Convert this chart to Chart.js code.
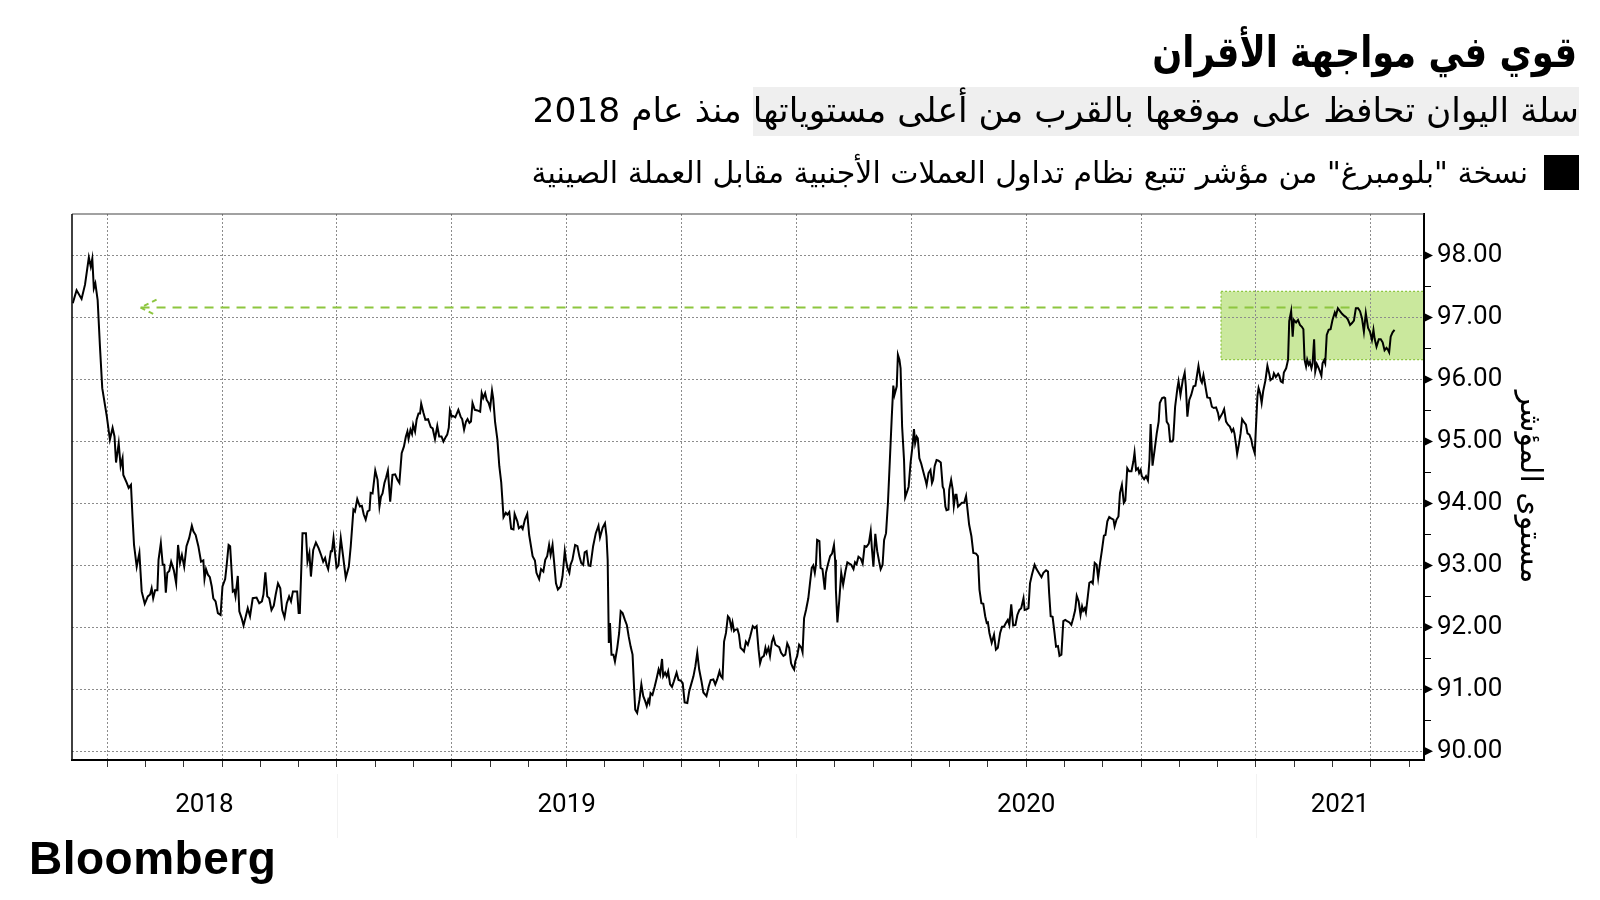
<!DOCTYPE html>
<html lang="ar">
<head>
<meta charset="utf-8">
<title>قوي في مواجهة الأقران</title>
<script src="https://cdn.jsdelivr.net/npm/chart.js@4.4.1/dist/chart.umd.min.js"></script>
<style>
  html, body { margin: 0; padding: 0; background: #fff; }
  #wrap { position: relative; width: 1600px; height: 900px; overflow: hidden; background: #fff; }
  #chart { position: absolute; left: 0; top: 0; }
  .txt { position: absolute; right: 23px; direction: rtl; white-space: nowrap; color: #000; font-family: 'DejaVu Sans', sans-serif; }
  .title { top: 31px; font-size: 43px; line-height: 43px; font-weight: bold; transform: scaleX(0.82); transform-origin: right center; }
  .subtitle { top: 93px; right: 21px; font-size: 34.5px; line-height: 34.5px; }
  .subtitle .mark { background: #efefef; padding: 3px 0 6px; }
  .legend { top: 158px; right: 72px; font-size: 30px; line-height: 30px; }
  .swatch { position: absolute; left: 1544px; top: 155px; width: 35px; height: 35px; background: #000; }
  .brand { position: absolute; left: 29px; top: 835px; font-family: 'Liberation Sans', Arial, sans-serif; font-weight: bold; font-size: 46px; line-height: 46px; letter-spacing: 0.5px; color: #000; }
</style>
</head>
<body>
<div id="wrap">
  <canvas id="chart" width="1600" height="900"></canvas>
  <div class="txt title">قوي في مواجهة الأقران</div>
  <div class="txt subtitle"><span class="mark">سلة اليوان تحافظ على موقعها بالقرب من أعلى مستوياتها</span> منذ عام 2018</div>
  <div class="swatch"></div>
  <div class="txt legend">نسخة "بلومبرغ" من مؤشر تتبع نظام تداول العملات الأجنبية مقابل العملة الصينية</div>
  <div class="brand">Bloomberg</div>
</div>
<script>
// x values are months counted from January 2018 (12 = Jan 2019, 24 = Jan 2020, 36 = Jan 2021)
const monthPos = [
  5.10, 5.20, 5.33, 5.42, 5.52, 5.57, 5.61, 5.65, 5.69, 5.75, 5.81, 5.87, 5.99, 6.07, 6.14, 6.19, 6.23, 6.30, 6.35, 6.40,
  6.42, 6.51, 6.56, 6.62, 6.66, 6.70, 6.77, 6.84, 6.90, 6.98, 7.06, 7.12, 7.16, 7.20, 7.25, 7.31, 7.34, 7.40, 7.45, 7.49,
  7.53, 7.57, 7.62, 7.67, 7.74, 7.80, 7.85, 7.90, 7.95, 8.01, 8.07, 8.14, 8.21, 8.25, 8.31, 8.38, 8.45, 8.51, 8.54, 8.58,
  8.63, 8.68, 8.73, 8.77, 8.83, 8.89, 8.96, 9.01, 9.08, 9.12, 9.17, 9.21, 9.28, 9.32, 9.35, 9.41, 9.45, 9.51, 9.56, 9.62,
  9.67, 9.73, 9.80, 9.90, 9.97, 10.04, 10.08, 10.13, 10.18, 10.23, 10.29, 10.35, 10.40, 10.46, 10.52, 10.57, 10.63, 10.69, 10.75, 10.80,
  10.85, 10.96, 11.00,
  11.03, 11.10, 11.19, 11.23, 11.28, 11.32, 11.38, 11.45, 11.52, 11.59, 11.64, 11.69, 11.73, 11.77, 11.84, 11.87, 11.91, 11.94, 11.99, 12.04,
  12.10, 12.15, 12.23, 12.31, 12.36, 12.43, 12.47, 12.53, 12.60, 12.65, 12.70, 12.75, 12.80, 12.85, 12.88, 12.93, 13.00, 13.06, 13.11, 13.15,
  13.19, 13.24, 13.28, 13.33, 13.39, 13.45, 13.52, 13.58, 13.63, 13.69, 13.75, 13.80, 13.84, 13.87, 13.92, 13.96, 13.99, 14.04, 14.08, 14.13,
  14.17, 14.20, 14.26, 14.31, 14.38, 14.45, 14.50, 14.56, 14.62, 14.67, 14.73, 14.78, 14.83, 14.88, 14.92, 14.95, 15.00, 15.04, 15.09, 15.17,
  15.23, 15.27, 15.32, 15.37, 15.41, 15.46, 15.50, 15.54, 15.60, 15.67, 15.74, 15.78, 15.82, 15.87, 15.91, 15.96, 16.00, 16.05, 16.08, 16.13,
  16.19, 16.24, 16.29, 16.35, 16.41, 16.45, 16.50, 16.55, 16.61, 16.64, 16.71, 16.75, 16.81, 16.85, 16.91, 16.97, 17.02,
  17.11, 17.17, 17.21, 17.28, 17.33, 17.39, 17.44, 17.49, 17.54, 17.58, 17.63, 17.67, 17.72, 17.77, 17.84, 17.89, 17.95, 17.98, 18.02, 18.07,
  18.10, 18.15, 18.22, 18.28, 18.33, 18.38, 18.43, 18.47, 18.52, 18.57, 18.62, 18.69, 18.76, 18.83, 18.87, 18.94, 19.00, 19.04, 19.07, 19.10,
  19.13, 19.17, 19.22, 19.26, 19.32, 19.37, 19.41, 19.46, 19.52, 19.57, 19.62, 19.67, 19.72, 19.76, 19.79, 19.84, 19.90, 19.95, 20.00, 20.05,
  20.09, 20.13, 20.16, 20.19, 20.24, 20.30, 20.35, 20.40, 20.44, 20.49, 20.52, 20.57, 20.61, 20.65, 20.70, 20.75, 20.80, 20.87, 20.92, 20.98,
  21.03, 21.08, 21.15, 21.20, 21.25, 21.31, 21.36, 21.41, 21.46, 21.52, 21.57, 21.65, 21.71, 21.76, 21.83, 21.88, 21.93, 21.99, 22.02, 22.07,
  22.11, 22.16, 22.21, 22.25, 22.30, 22.33, 22.37, 22.40, 22.46, 22.50, 22.54, 22.59, 22.63, 22.68, 22.73, 22.79, 22.86, 22.91, 22.96, 23.01,
  23.05, 23.09, 23.15, 23.19, 23.22, 23.27, 23.31, 23.36, 23.40, 23.45, 23.50, 23.55, 23.60, 23.66, 23.71, 23.76, 23.81, 23.86, 23.90, 23.94,
  23.97, 24.02, 24.07, 24.13, 24.16, 24.20, 24.25, 24.31, 24.35, 24.40, 24.44, 24.48, 24.51, 24.54, 24.60, 24.63, 24.68, 24.74, 24.77, 24.82,
  24.88, 24.93, 24.98, 25.01, 25.03, 25.07, 25.12, 25.17, 25.22, 25.28, 25.33, 25.38, 25.43, 25.49, 25.53, 25.57, 25.62, 25.68, 25.73, 25.78,
  25.83, 25.89, 25.94, 25.97, 26.01, 26.06, 26.11, 26.16, 26.20, 26.25, 26.29, 26.34, 26.39, 26.44, 26.49, 26.53, 26.56, 26.62, 26.65, 26.69,
  26.72, 26.76, 26.81, 26.84, 26.90, 26.93, 26.98, 27.03, 27.07, 27.10, 27.14, 27.17, 27.21, 27.26, 27.31, 27.37, 27.40, 27.45, 27.50, 27.54,
  27.57, 27.61, 27.66, 27.71, 27.77, 27.82, 27.85, 27.89, 27.92, 27.97, 27.99, 28.04, 28.08, 28.11, 28.15, 28.18, 28.22, 28.27, 28.32, 28.38,
  28.43, 28.46, 28.51, 28.57, 28.62, 28.69, 28.74, 28.78, 28.83, 28.88, 28.93, 28.97, 29.00, 29.04,
  29.10, 29.16, 29.21, 29.26, 29.32, 29.37, 29.42, 29.47, 29.52, 29.56, 29.61, 29.66, 29.72, 29.77, 29.82, 29.87, 29.93, 29.96, 30.01, 30.06,
  30.10, 30.15, 30.22, 30.27, 30.34, 30.40, 30.45, 30.52, 30.57, 30.60, 30.64, 30.69, 30.74, 30.78, 30.83, 30.87, 30.92, 30.97, 31.02, 31.07,
  31.13, 31.18, 31.23, 31.28, 31.32, 31.37, 31.42, 31.46, 31.49, 31.53, 31.56, 31.61, 31.65, 31.70, 31.74, 31.79, 31.84, 31.88, 31.93, 31.98,
  32.03, 32.07, 32.12, 32.17, 32.22, 32.28, 32.31, 32.36, 32.41, 32.45, 32.50, 32.55, 32.59, 32.64, 32.69, 32.75, 32.80, 32.83, 32.87, 32.92,
  32.95, 32.99, 33.02, 33.08, 33.13, 33.18, 33.22, 33.25, 33.30, 33.36, 33.41, 33.46, 33.49, 33.55, 33.60, 33.63, 33.67, 33.72, 33.76, 33.81,
  33.84, 33.89, 33.95, 33.98, 34.03, 34.09, 34.14, 34.17, 34.21, 34.26, 34.31, 34.37, 34.42, 34.47, 34.50, 34.56, 34.59, 34.63, 34.68, 34.73,
  34.80, 34.85, 34.90, 34.96, 35.01, 35.04,
  35.13, 35.17, 35.22, 35.27, 35.32, 35.37, 35.41, 35.44, 35.48, 35.51, 35.56, 35.60, 35.64, 35.69, 35.74, 35.78, 35.83, 35.88, 35.91, 35.97,
  36.00, 36.04, 36.07, 36.11, 36.15, 36.19, 36.25, 36.30, 36.35, 36.38, 36.44, 36.47, 36.52, 36.58, 36.61, 36.65, 36.70, 36.73, 36.79, 36.84,
  36.87, 36.92, 36.96, 36.99, 37.05, 37.10, 37.15, 37.20, 37.24, 37.27, 37.31, 37.34, 37.38, 37.41, 37.45, 37.48, 37.52, 37.55, 37.59, 37.62,
  37.66, 37.71, 37.74, 37.78, 37.81, 37.85, 37.90, 37.95, 38.00, 38.06, 38.09, 38.14, 38.20, 38.25, 38.30, 38.35, 38.40, 38.46, 38.51, 38.56,
  38.61, 38.67, 38.72, 38.77, 38.82, 38.87, 38.93, 38.98, 39.03, 39.07, 39.10, 39.15, 39.21, 39.26, 39.31, 39.36, 39.41, 39.45, 39.48, 39.52,
  39.57, 39.62
];

const basketIndex = [
  97.23, 97.44, 97.30, 97.53, 97.97, 97.82, 97.95, 97.47, 97.55, 97.28, 96.53, 95.86, 95.40, 95.03, 95.22, 95.08, 94.66, 94.97, 94.60, 94.73,
  94.46, 94.33, 94.25, 94.30, 93.79, 93.33, 92.98, 93.20, 92.58, 92.38, 92.50, 92.53, 92.63, 92.47, 92.60, 92.60, 93.09, 93.36, 93.01, 93.01,
  92.56, 92.88, 92.91, 93.06, 92.92, 92.71, 93.33, 93.04, 93.17, 92.98, 93.31, 93.44, 93.64, 93.55, 93.49, 93.31, 93.06, 93.08, 92.78, 92.94,
  92.85, 92.81, 92.66, 92.47, 92.42, 92.23, 92.20, 92.66, 92.78, 93.01, 93.33, 93.31, 92.58, 92.60, 92.50, 92.83, 92.26, 92.15, 92.03, 92.18,
  92.31, 92.18, 92.47, 92.48, 92.39, 92.42, 92.53, 92.89, 92.50, 92.47, 92.28, 92.35, 92.53, 92.71, 92.63, 92.28, 92.16, 92.39, 92.50, 92.42,
  92.58, 92.58, 92.23,
  92.23, 93.52, 93.52, 93.06, 93.20, 92.82, 93.25, 93.37, 93.28, 93.16, 93.06, 93.12, 93.01, 92.94, 93.23, 93.23, 93.44, 93.25, 92.96, 93.00,
  93.44, 93.20, 92.80, 92.98, 93.31, 93.90, 93.87, 94.07, 93.95, 93.96, 93.82, 93.74, 93.87, 93.89, 94.17, 94.16, 94.53, 94.38, 93.95, 94.11,
  94.16, 94.33, 94.41, 94.53, 94.03, 94.46, 94.47, 94.38, 94.33, 94.81, 94.92, 95.08, 95.16, 95.04, 95.19, 95.12, 95.27, 95.16, 95.35, 95.45,
  95.45, 95.61, 95.46, 95.35, 95.36, 95.23, 95.21, 95.04, 95.25, 95.08, 95.08, 95.00, 95.06, 95.11, 95.22, 95.50, 95.40, 95.41, 95.39, 95.51,
  95.40, 95.36, 95.19, 95.32, 95.36, 95.30, 95.32, 95.62, 95.51, 95.50, 95.48, 95.78, 95.70, 95.78, 95.67, 95.62, 95.54, 95.82, 95.70, 95.31,
  95.03, 94.60, 94.34, 93.78, 93.85, 93.82, 93.86, 93.59, 93.58, 93.83, 93.71, 93.60, 93.63, 93.59, 93.74, 93.83, 93.49,
  93.15, 93.08, 92.88, 92.78, 92.94, 92.90, 93.09, 93.15, 93.33, 93.17, 93.33, 93.06, 92.71, 92.61, 92.66, 92.82, 93.23, 93.09, 92.96, 92.88,
  93.01, 93.09, 93.33, 93.31, 93.15, 93.04, 93.01, 93.21, 93.23, 93.00, 92.99, 93.31, 93.52, 93.64, 93.45, 93.61, 93.68, 93.47, 93.09, 91.75,
  92.07, 91.56, 91.56, 91.45, 91.67, 91.91, 92.26, 92.23, 92.12, 92.04, 91.85, 91.69, 91.56, 91.02, 90.67, 90.62, 90.83, 91.08, 90.89, 90.81,
  90.73, 90.83, 90.78, 90.94, 90.91, 91.05, 91.18, 91.32, 91.24, 91.49, 91.21, 91.27, 91.21, 91.29, 91.08, 91.04, 91.13, 91.27, 91.15, 91.14,
  91.10, 90.79, 90.78, 90.97, 91.08, 91.21, 91.37, 91.59, 91.32, 91.13, 90.95, 90.89, 91.05, 91.15, 91.16, 91.08, 91.16, 91.29, 91.22, 91.18,
  91.77, 91.91, 92.18, 92.15, 91.99, 92.08, 91.94, 91.96, 91.97, 91.88, 91.67, 91.64, 91.61, 91.77, 91.72, 91.85, 92.02, 91.99, 92.02, 91.64,
  91.42, 91.51, 91.54, 91.67, 91.59, 91.67, 91.54, 91.77, 91.84, 91.72, 91.70, 91.68, 91.59, 91.54, 91.56, 91.74, 91.67, 91.42, 91.36, 91.32,
  91.45, 91.54, 91.72, 91.67, 91.60, 92.15, 92.28, 92.47, 92.69, 92.96, 93.00, 92.88, 93.01, 93.41, 93.39, 92.96, 92.94, 92.61, 92.88, 93.01,
  93.15, 93.19, 93.33, 93.09, 92.61, 92.08, 92.45, 92.88, 92.69, 92.91, 93.05, 93.03, 93.01, 92.94, 93.05, 93.02, 93.14, 93.11, 93.03, 93.31,
  93.30, 93.35, 93.55, 93.28, 92.98, 93.51, 93.23, 93.06, 92.94, 93.01, 93.41, 93.52, 94.01, 94.70, 95.40, 95.90, 95.75, 95.89, 96.40, 96.32,
  96.18, 95.24, 94.70, 94.10, 94.21, 94.27, 94.65, 94.92, 95.20, 94.97, 95.08, 95.05, 94.73, 94.64, 94.52, 94.38, 94.30, 94.49, 94.54, 94.33,
  94.38, 94.60, 94.70, 94.69, 94.66, 94.27, 94.23, 93.95, 93.89, 93.90, 94.22, 94.38, 94.23, 93.96, 94.14, 94.14, 93.95, 93.98, 94.01, 94.01,
  94.12, 93.95, 93.66, 93.47, 93.20, 93.19, 93.15, 92.61, 92.39, 92.38, 92.18, 92.07, 92.08, 91.91,
  91.75, 91.88, 91.64, 91.67, 91.91, 92.01, 92.01, 92.07, 92.12, 92.04, 92.37, 92.03, 92.04, 92.20, 92.28, 92.31, 92.47, 92.28, 92.29, 92.31,
  92.71, 92.85, 93.01, 92.94, 92.87, 92.81, 92.88, 92.92, 92.90, 92.55, 92.18, 92.17, 91.91, 91.69, 91.70, 91.54, 91.56, 92.10, 92.12, 92.10,
  92.08, 92.04, 92.15, 92.28, 92.51, 92.42, 92.20, 92.34, 92.27, 92.31, 92.24, 92.50, 92.72, 92.74, 92.71, 93.04, 93.01, 92.80, 93.04, 93.25,
  93.48, 93.49, 93.71, 93.78, 93.76, 93.74, 93.63, 93.74, 93.79, 94.17, 94.30, 94.01, 94.05, 94.57, 94.52, 94.52, 94.68, 94.82, 94.54, 94.57,
  94.49, 94.54, 94.44, 94.39, 94.44, 94.37, 94.70, 95.28, 94.61, 94.89, 95.13, 95.32, 95.62, 95.70, 95.71, 95.70, 95.32, 95.27, 95.00, 95.00,
  95.03, 95.56, 95.86, 95.97, 95.75, 95.99, 96.11, 95.89, 95.40, 95.67, 95.75, 95.89, 95.90, 96.10, 96.22, 95.99, 95.95, 96.07, 95.89, 95.71,
  95.70, 95.56, 95.54, 95.55, 95.46, 95.36,
  95.46, 95.52, 95.32, 95.27, 95.24, 95.16, 95.20, 95.13, 94.95, 94.80, 94.97, 95.13, 95.36, 95.31, 95.27, 95.13, 95.11, 95.03, 94.93, 94.81,
  95.22, 95.73, 95.86, 95.78, 95.62, 95.81, 95.99, 96.22, 96.09, 95.99, 96.02, 96.10, 96.04, 96.09, 96.06, 95.97, 95.95, 96.11, 96.18, 96.32,
  96.94, 97.10, 96.69, 96.96, 96.92, 96.96, 96.88, 96.85, 96.81, 96.32, 96.21, 96.32, 96.24, 96.28, 96.18, 96.26, 96.65, 96.13, 96.25, 96.21,
  96.15, 96.06, 96.26, 96.31, 96.26, 96.72, 96.80, 96.81, 96.96, 97.08, 97.03, 97.15, 97.10, 97.06, 97.03, 97.01, 96.97, 96.88, 96.91, 96.95,
  97.15, 97.15, 97.10, 96.99, 96.77, 97.07, 96.83, 96.77, 96.64, 96.80, 96.66, 96.53, 96.65, 96.65, 96.60, 96.47, 96.51, 96.48, 96.44, 96.69,
  96.76, 96.80
];

const yTickValues = [90, 91, 92, 93, 94, 95, 96, 97, 98];
const years = [2018, 2019, 2020, 2021];
const xMin = 5.08, xMax = 40.39;
const yMin = 89.86, yMax = 98.67;

// recent trading band (green box) and the dashed reference level
const bandFrom = 35.09, bandTo = 40.39;
const bandLow = 96.32, bandHigh = 97.42;
const refLevel = 97.16;
const refFrom = 6.87, refTo = 38.65;

const green = '#8dc63f';
const gridGray = '#8c8c8c';

const monthTicks = [];
for (let m = Math.ceil(xMin); m <= xMax; m++) monthTicks.push(m);
const yTicksAll = [];
yTickValues.forEach(v => { yTicksAll.push(v); if (v < yTickValues[yTickValues.length - 1]) yTicksAll.push(v + 0.5); });

const extras = {
    id: 'extras',
    beforeDraw(chart) {
        const {ctx, scales: {x, y}} = chart;
        const l = x.getPixelForValue(bandFrom), r = x.getPixelForValue(bandTo);
        const t = y.getPixelForValue(bandHigh), b = y.getPixelForValue(bandLow);
        ctx.save();
        ctx.fillStyle = 'rgba(150, 210, 60, 0.5)';
        ctx.fillRect(l, t, r - l, b - t);
        ctx.strokeStyle = green;
        ctx.lineWidth = 1.2;
        ctx.setLineDash([2, 2]);
        ctx.strokeRect(l, t, r - l, b - t);
        ctx.restore();
    },
    afterDatasetsDraw(chart) {
        const {ctx, scales: {x, y}} = chart;
        // arrow head of the reference line
        const px = x.getPixelForValue(refFrom), py = y.getPixelForValue(refLevel);
        ctx.save();
        ctx.strokeStyle = green;
        ctx.lineWidth = 2;
        ctx.setLineDash([5, 4]);
        ctx.beginPath();
        ctx.moveTo(px + 16, py - 8); ctx.lineTo(px, py); ctx.lineTo(px + 14, py + 7);
        ctx.stroke();
        ctx.restore();
    },
    afterDraw(chart) {
        const {ctx, chartArea: area, scales: {x, y}} = chart;
        ctx.save();
        // frame: top and left edges
        ctx.strokeStyle = '#444';
        ctx.lineWidth = 1.2;
        ctx.beginPath();
        ctx.moveTo(area.left, area.top); ctx.lineTo(area.right, area.top);
        ctx.stroke();
        ctx.strokeStyle = '#111';
        ctx.lineWidth = 1.6;
        ctx.beginPath();
        ctx.moveTo(area.left, area.top); ctx.lineTo(area.left, area.bottom);
        ctx.stroke();

        // little pointers on the value axis
        ctx.fillStyle = '#000';
        yTickValues.forEach(v => {
            const py = y.getPixelForValue(v);
            ctx.beginPath();
            ctx.moveTo(area.right, py - 4.5);
            ctx.lineTo(area.right + 9, py);
            ctx.lineTo(area.right, py + 4.5);
            ctx.closePath();
            ctx.fill();
        });

        // year labels centred on each year's span, with faint separators
        ctx.font = '26px Roboto';
        ctx.textAlign = 'center';
        ctx.textBaseline = 'middle';
        years.forEach(yr => {
            const s = Math.max(xMin, (yr - 2018) * 12);
            const e = Math.min(xMax, (yr - 2017) * 12);
            const cx = (x.getPixelForValue(s) + x.getPixelForValue(e)) / 2;
            ctx.fillStyle = '#000';
            ctx.fillText(String(yr), cx, area.bottom + 45);
            if (s > xMin) {
                const sx = Math.round(x.getPixelForValue(s)) + 0.5;
                ctx.strokeStyle = '#f2f2f2';
                ctx.lineWidth = 1;
                ctx.beginPath();
                ctx.moveTo(sx, area.bottom + 14); ctx.lineTo(sx, area.bottom + 78);
                ctx.stroke();
            }
        });
        ctx.restore();
    }
};

Chart.defaults.font.family = 'Roboto';
Chart.defaults.color = '#000';

const ctx = document.getElementById('chart').getContext('2d');
new Chart(ctx, {
    type: 'line',
    data: {
        datasets: [{
            label: 'مؤشر بلومبرغ لسلة اليوان',
            data: monthPos.map((m, i) => ({x: m, y: basketIndex[i]})),
            borderColor: '#000',
            borderWidth: 2,
            pointRadius: 0,
            tension: 0,
            order: 0
        }, {
            label: 'reference',
            data: [{x: refFrom, y: refLevel}, {x: refTo, y: refLevel}],
            borderColor: green,
            borderWidth: 2,
            borderDash: [9, 7],
            pointRadius: 0,
            order: 1
        }]
    },
    options: {
        responsive: false,
        devicePixelRatio: 1,
        animation: false,
        layout: {
            autoPadding: false,
            padding: {left: 72, top: 214, right: 53, bottom: 100}
        },
        plugins: {
            legend: {display: false},
            tooltip: {enabled: false}
        },
        scales: {
            x: {
                type: 'linear',
                position: 'bottom',
                min: xMin,
                max: xMax,
                afterBuildTicks: scale => { scale.ticks = monthTicks.map(v => ({value: v})); },
                afterFit: scale => { scale.height = 40; },
                ticks: {display: false, autoSkip: false},
                grid: {
                    color: c => (c.tick && c.tick.value % 3 === 0) ? gridGray : 'transparent',
                    tickColor: '#333',
                    tickLength: 7,
                    lineWidth: 1
                },
                border: {color: '#000', width: 2, dash: [2, 2]}
            },
            y: {
                type: 'linear',
                position: 'right',
                min: yMin,
                max: yMax,
                afterBuildTicks: scale => { scale.ticks = yTicksAll.map(v => ({value: v})); },
                afterFit: scale => { scale.width = 123; },
                ticks: {
                    autoSkip: false,
                    padding: 6,
                    font: {family: 'Roboto', size: 26},
                    color: '#000',
                    callback: v => Number.isInteger(v) ? v.toFixed(2) : ''
                },
                grid: {
                    color: c => (c.tick && Number.isInteger(c.tick.value)) ? gridGray : 'transparent',
                    tickColor: '#000',
                    tickLength: 7,
                    lineWidth: 1
                },
                border: {color: '#000', width: 2, dash: [2, 2]},
                title: {
                    display: true,
                    text: 'مستوى المؤشر',
                    font: {family: 'DejaVu Sans', size: 30},
                    color: '#000',
                    padding: 0
                }
            }
        }
    },
    plugins: [extras]
});
</script>
</body>
</html>
